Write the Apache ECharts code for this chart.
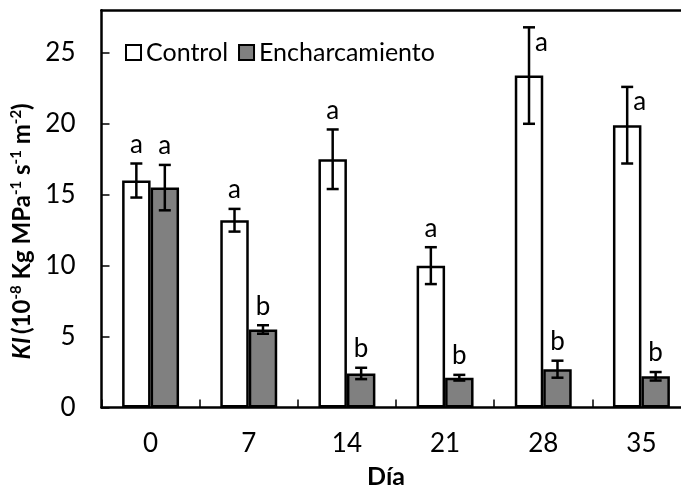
<!DOCTYPE html>
<html><head><meta charset="utf-8">
<script src="https://cdn.jsdelivr.net/npm/echarts@6/dist/echarts.min.js"></script>
<style>html,body{margin:0;padding:0;background:#fff}#c{width:681px;height:488px}</style>
</head><body><div id="c"></div>
<script>
const categories = ['0', '7', '14', '21', '28', '35'];
const controlValues = [16.0, 13.2, 17.5, 10.0, 23.4, 19.9];
const controlErrors = [1.2, 0.8, 2.1, 1.3, 3.4, 2.7];
const controlLetters = ['a', 'a', 'a', 'a', 'a', 'a'];
const controlLetterBeside = [false, false, false, false, true, true];
const floodValues = [15.5, 5.5, 2.4, 2.1, 2.7, 2.2];
const floodErrors = [1.6, 0.3, 0.4, 0.2, 0.6, 0.3];
const floodLetters = ['a', 'b', 'b', 'b', 'b', 'b'];
const floodLetterBeside = [false, false, false, false, false, false];
const yTicks = [0, 5, 10, 15, 20, 25];

const FONT = 'Lato, "Open Sans", sans-serif';
const BAR_FRAC = 0.29;

function errRender(sign, letters, beside) {
  return function (params, api) {
    const i = api.value(0), v = api.value(1), e = api.value(2);
    const c = api.coord([i, v]);
    const bw = api.size([1, 0])[0] * BAR_FRAC;
    const x = c[0] + sign * bw / 2;
    const top = api.coord([i, v + e])[1];
    const bot = api.coord([i, v - e])[1];
    const cap = 6;
    const st = { stroke: '#000', lineWidth: 2.5 };
    const side = beside[params.dataIndex];
    return {
      type: 'group',
      children: [
        { type: 'line', shape: { x1: x, y1: top, x2: x, y2: bot }, style: st },
        { type: 'line', shape: { x1: x - cap, y1: top, x2: x + cap, y2: top }, style: st },
        { type: 'line', shape: { x1: x - cap, y1: bot, x2: x + cap, y2: bot }, style: st },
        { type: 'text', style: {
            text: letters[params.dataIndex],
            x: side ? x + 6 : x,
            y: side ? top + 2 : top - 6,
            align: side ? 'left' : 'center',
            verticalAlign: side ? 'top' : 'bottom',
            font: '26px ' + FONT, fill: '#000' } }
      ]
    };
  };
}

const chart = echarts.init(document.getElementById('c'), null, { renderer: 'canvas' });
const sup = { fontSize: 15, fontWeight: 'bold', fontFamily: FONT, color: '#000', verticalAlign: 'top', lineHeight: 14 };
const main = { fontSize: 24, fontWeight: 'bold', fontFamily: FONT, color: '#000', lineHeight: 28 };
chart.setOption({
  animation: false,
  backgroundColor: '#fff',
  grid: { left: 101.5, right: -9.5, top: 10.3, bottom: 80.5, containLabel: false, outerBoundsMode: 'none' },
  legend: {
    left: 120, top: 35, itemWidth: 15, itemHeight: 15, itemGap: 10, icon: 'rect',
    textStyle: { fontSize: 25, fontFamily: FONT, color: '#000', lineHeight: 25 },
    itemStyle: { borderColor: '#000', borderWidth: 2 },
    data: ['Control', 'Encharcamiento']
  },
  xAxis: [{
    type: 'category', data: categories, position: 'bottom',
    axisLine: { lineStyle: { color: '#000', width: 2.5 } },
    axisTick: { show: true, inside: true, length: 8, lineStyle: { color: '#000', width: 1.5 } },
    axisLabel: { fontSize: 26, fontFamily: FONT, color: '#000', margin: 23 },
    name: 'Día', nameLocation: 'middle', nameGap: 57,
    nameTextStyle: { fontSize: 25, fontWeight: 'bold', fontFamily: FONT, color: '#000', padding: [0, 20, 0, 0] }
  }, {
    type: 'category', data: categories, position: 'top',
    axisLine: { show: true, lineStyle: { color: '#000', width: 2.5 } },
    axisTick: { show: false }, axisLabel: { show: false }
  }],
  yAxis: {
    type: 'value', min: 0, max: 28, interval: 5,
    axisLine: { show: true, lineStyle: { color: '#000', width: 2.5 } },
    axisTick: { show: true, inside: true, length: 8, customValues: yTicks, lineStyle: { color: '#000', width: 1.5 } },
    axisLabel: { customValues: yTicks, fontSize: 26, fontFamily: FONT, color: '#000', margin: 26,
      formatter: v => (yTicks.indexOf(v) >= 0 ? String(v) : '') },
    splitLine: { show: false },
    name: '{i|KI} {m|(10}{s|-8}{m| Kg MPa}{s|-1}{m| s}{s|-1}{m| m}{s|-2}{m|)}',
    nameLocation: 'middle', nameRotate: 90, nameGap: 50,
    nameTextStyle: {
      padding: [0, 45, 0, 0],
      rich: { i: Object.assign({}, main, { fontStyle: 'italic' }), m: main, s: sup }
    }
  },
  series: [
    { name: 'Control', type: 'bar', data: controlValues, barWidth: '29%', barGap: '0%',
      itemStyle: { color: '#fff', borderColor: '#000', borderWidth: 2.5 } },
    { name: 'Encharcamiento', type: 'bar', data: floodValues, barWidth: '29%', barGap: '0%',
      itemStyle: { color: '#808080', borderColor: '#000', borderWidth: 2.5 } },
    { type: 'custom', name: 'errC', data: controlValues.map((v, i) => [i, v, controlErrors[i]]),
      encode: { x: 0, y: 1 }, renderItem: errRender(-1, controlLetters, controlLetterBeside), z: 5 },
    { type: 'custom', name: 'errF', data: floodValues.map((v, i) => [i, v, floodErrors[i]]),
      encode: { x: 0, y: 1 }, renderItem: errRender(1, floodLetters, floodLetterBeside), z: 5 }
  ]
});
</script></body></html>
